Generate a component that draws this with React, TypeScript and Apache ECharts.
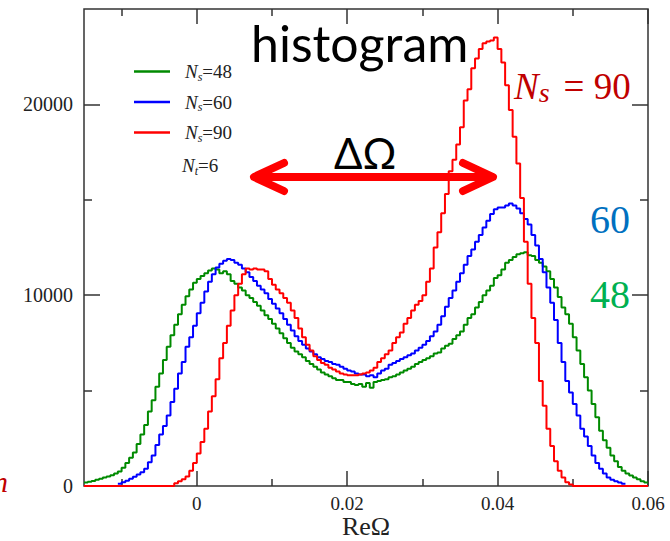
import React, { useEffect, useRef } from "react";
import * as echarts from "echarts";

// Histogram binning of Re(Omega)
const BIN_START = -0.015;
const BIN_WIDTH = 0.0005;
const X_MIN = -0.015;
const X_MAX = 0.06;
const Y_MIN = 0;
const Y_MAX = 25000;

// Tick positions
const X_MAJOR = [0, 0.02, 0.04, 0.06];
const X_MINOR = [-0.01, 0.01, 0.03, 0.05];
const Y_MAJOR = [0, 10000, 20000];
const Y_MINOR = [5000, 15000];

// Series names (legend)
const SERIES_NAMES = ["Ns=48", "Ns=60", "Ns=90"];
const SERIES_COLORS = ["#008a00", "#0000ff", "#ff0000"];

// Counts per bin, Ns = 48 (bins 0..149)
const greenCounts = [
  180, 220, 260, 330, 380, 440, 500, 560, 650, 760,
  950, 1200, 1480, 1750, 2200, 2700, 3200, 3900, 4500, 5200,
  5900, 6600, 7300, 7900, 8450, 9000, 9500, 9950, 10300, 10650,
  10850, 11000, 11150, 11300, 11400, 11350, 11150, 11250, 11100, 10750,
  10600, 10400, 10250, 10000, 9850, 9650, 9450, 9200, 8950, 8750,
  8500, 8250, 8000, 7750, 7500, 7250, 7050, 6900, 6750, 6550,
  6400, 6250, 6100, 5950, 5850, 5750, 5650, 5550, 5550, 5450,
  5450, 5350, 5300, 5350, 5200, 5400, 5150, 5450, 5500, 5550,
  5600, 5700, 5750, 5850, 5950, 6050, 6150, 6250, 6400, 6500,
  6600, 6700, 6800, 6950, 7000, 7200, 7350, 7450, 7700, 7900,
  8100, 8450, 8800, 9000, 9350, 9650, 10000, 10250, 10500, 10900,
  11050, 11350, 11700, 11850, 12000, 12150, 12200, 12250, 12100, 12050,
  11850, 11700, 11500, 11250, 10850, 10400, 9900, 9350, 9000, 8500,
  7800, 7100, 6400, 5700, 5000, 4300, 3600, 2900, 2400, 2000,
  1600, 1300, 1000, 800, 650, 550, 450, 350, 250, 180,
];
const GREEN_FIRST_BIN = 0;

// Counts per bin, Ns = 60 (bins 9..143)
const blueCounts = [
  120, 200, 280, 380, 480, 600, 720, 900, 1250, 1600,
  2150, 2700, 3150, 3700, 4400, 5100, 5900, 6500, 7300, 7800,
  8400, 9050, 9600, 10200, 10700, 11100, 11450, 11650, 11800, 11900,
  11850, 11700, 11600, 11400, 11200, 10950, 10750, 10500, 10300, 10100,
  9800, 9550, 9300, 9050, 8750, 8450, 8150, 7850, 7600, 7400,
  7200, 7050, 6900, 6750, 6650, 6550, 6500, 6400, 6350, 6250,
  6150, 6050, 6000, 5900, 5850, 5850, 5750, 5800, 5700, 5900,
  6050, 6150, 6350, 6450, 6550, 6650, 6750, 6850, 6950, 7100,
  7250, 7400, 7600, 7850, 8100, 8450, 8900, 9400, 9850, 10250,
  10700, 11150, 11600, 12050, 12400, 12800, 13150, 13550, 13900, 14250,
  14500, 14600, 14600, 14700, 14800, 14700, 14550, 14300, 14000, 13700,
  13150, 12600, 11900, 11200, 10400, 9600, 8700, 7500, 6500, 5500,
  4900, 4300, 3700, 3000, 2600, 2100, 1600, 1200, 900, 650,
  450, 330, 250, 180, 120,
];
const BLUE_FIRST_BIN = 9;

// Counts per bin, Ns = 90 (bins 0..149)
const redCounts = [
  0, 0, 0, 0, 0, 0, 0, 0, 0, 0,
  0, 0, 0, 0, 0, 0, 0, 0, 0, 0,
  0, 0, 0, 0, 150, 250, 350, 500, 800, 1200,
  1700, 2300, 3000, 3900, 4700, 5600, 6700, 7500, 8400, 9200,
  10000, 10600, 11100, 11400, 11350, 11400, 11350, 11350, 11250, 10850,
  10550, 10300, 10100, 9850, 9600, 9200, 8800, 8250, 7800, 7400,
  7100, 6800, 6600, 6450, 6350, 6200, 6100, 6000, 5900, 5850,
  5800, 5800, 5800, 5850, 5900, 5950, 6050, 6200, 6500, 6700,
  6900, 7100, 7500, 7800, 8050, 8500, 8800, 9200, 9500, 9700,
  10000, 10700, 11400, 12500, 13300, 14300, 15300, 16500, 17100, 17900,
  18800, 20200, 20800, 21900, 22400, 22900, 23200, 23300, 23350, 23500,
  22900, 22200, 21000, 19700, 18300, 16900, 15100, 12800, 10600, 8800,
  7500, 5500, 4200, 3000, 2100, 1300, 800, 450, 200, 80,
  0, 0, 0, 0, 0, 0, 0, 0, 0, 0,
  0, 0, 0, 0, 0, 0, 0, 0, 0, 0,
];
const RED_FIRST_BIN = 0;

const SERIF = "'Liberation Serif', 'Times New Roman', serif";
const SANS = "Lato, 'Open Sans', sans-serif";

// Turn bin counts into step points at bin edges
function toSteps(counts: number[], firstBin: number): [number, number][] {
  const pts: [number, number][] = counts.map((c, i) => [
    +(BIN_START + (firstBin + i) * BIN_WIDTH).toFixed(6),
    c,
  ]);
  const lastEdge = +(BIN_START + (firstBin + counts.length) * BIN_WIDTH).toFixed(6);
  pts.push([lastEdge, counts[counts.length - 1]]);
  return pts;
}

const AXIS_COLOR = "#333";

function tickAxis(
  kind: "x" | "y",
  position: string,
  values: number[],
  length: number,
  withLabels: boolean
) {
  const base: any = {
    type: "value",
    position,
    min: kind === "x" ? X_MIN : Y_MIN,
    max: kind === "x" ? X_MAX : Y_MAX,
    axisLine: { show: false, onZero: false },
    splitLine: { show: false },
    axisTick: {
      show: true,
      inside: true,
      length,
      customValues: values,
      lineStyle: { color: AXIS_COLOR, width: 1.5 },
    },
    axisLabel: withLabels
      ? {
          show: true,
          customValues: values,
          formatter: (v: number) => String(v),
          fontFamily: SERIF,
          fontSize: kind === "x" ? 19 : 20,
          lineHeight: 16,
          color: "#222",
          margin: kind === "x" ? 9 : 11,
        }
      : { show: false },
  };
  return base;
}

const legendRich = {
  n: { fontFamily: SERIF, fontStyle: "italic", fontSize: 19, lineHeight: 22, color: "#222", padding: [0, 0, 0, 10] },
  s: { fontFamily: SERIF, fontStyle: "italic", fontSize: 12, lineHeight: 8, verticalAlign: "bottom", color: "#222" },
  v: { fontFamily: SERIF, fontSize: 19, lineHeight: 22, color: "#222" },
};

export default function App() {
  const ref = useRef<HTMLDivElement>(null);

  useEffect(() => {
    if (!ref.current) return;
    const chart = echarts.init(ref.current, undefined, { renderer: "svg" });

    const seriesData = [
      toSteps(greenCounts, GREEN_FIRST_BIN),
      toSteps(blueCounts, BLUE_FIRST_BIN),
      toSteps(redCounts, RED_FIRST_BIN),
    ];

    const xMain = tickAxis("x", "bottom", X_MAJOR, 15, true);
    xMain.name = "ReΩ";
    xMain.nameLocation = "middle";
    xMain.nameGap = 29;
    xMain.nameMoveOverlap = false;
    xMain.nameTextStyle = { fontFamily: SERIF, fontSize: 26, lineHeight: 22, color: "#222" };

    chart.setOption({
      animation: false,
      backgroundColor: "#fff",
      grid: {
        left: 84,
        right: 22,
        top: 9,
        bottom: 55,
        show: true,
        borderColor: AXIS_COLOR,
        borderWidth: 1.5,
        backgroundColor: "transparent",
        outerBoundsMode: "none",
      },
      xAxis: [
        xMain,
        tickAxis("x", "bottom", X_MINOR, 7, false),
        tickAxis("x", "top", X_MAJOR, 15, false),
        tickAxis("x", "top", X_MINOR, 7, false),
      ],
      yAxis: [
        tickAxis("y", "left", Y_MAJOR, 16, true),
        tickAxis("y", "left", Y_MINOR, 8, false),
        tickAxis("y", "right", Y_MAJOR, 16, false),
        tickAxis("y", "right", Y_MINOR, 8, false),
      ],
      legend: {
        orient: "vertical",
        left: 129,
        top: 57,
        itemWidth: 36,
        itemHeight: 2.5,
        itemGap: 10,
        icon: "rect",
        selectedMode: false,
        data: SERIES_NAMES,
        formatter: (name: string) => `{n|N}{s|s}{v|=${name.split("=")[1]}}`,
        textStyle: { rich: legendRich },
      },
      series: SERIES_NAMES.map((name, i) => ({
        name,
        type: "line",
        step: "end",
        data: seriesData[i],
        color: SERIES_COLORS[i],
        showSymbol: false,
        clip: false,
        lineStyle: { width: 2, color: SERIES_COLORS[i] },
        xAxisIndex: 0,
        yAxisIndex: 0,
      })),
      graphic: [
        {
          type: "text",
          left: 182,
          top: 156,
          style: {
            text: "{n|N}{s|t}{v|=6}",
            rich: {
              n: { fontFamily: SERIF, fontStyle: "italic", fontSize: 19, lineHeight: 22, fill: "#222" },
              s: { fontFamily: SERIF, fontStyle: "italic", fontSize: 12, lineHeight: 8, verticalAlign: "bottom", fill: "#222" },
              v: { fontFamily: SERIF, fontSize: 19, lineHeight: 22, fill: "#222" },
            },
          },
        },
        {
          type: "text",
          left: 251,
          top: 18,
          style: { text: "histogram", fontFamily: SANS, fontSize: 50, fill: "#000" },
        },
        {
          type: "text",
          left: 334,
          top: 132,
          style: { text: "ΔΩ", fontFamily: SANS, fontSize: 42, fill: "#000" },
        },
        {
          type: "group",
          children: [
            {
              type: "line",
              shape: { x1: 258, y1: 177, x2: 490, y2: 177 },
              style: { stroke: "#ff0000", lineWidth: 8 },
            },
            {
              type: "polyline",
              shape: { points: [[284, 163], [254, 177], [284, 191]] },
              style: { stroke: "#ff0000", lineWidth: 8, lineCap: "round", lineJoin: "round", fill: null },
            },
            {
              type: "polyline",
              shape: { points: [[463, 163], [493, 177], [463, 191]] },
              style: { stroke: "#ff0000", lineWidth: 8, lineCap: "round", lineJoin: "round", fill: null },
            },
          ],
        },
        {
          type: "text",
          left: 514,
          top: 68,
          style: {
            text: "{n|N}{s|s}{v|= 90}",
            rich: {
              n: { fontFamily: SERIF, fontStyle: "italic", fontSize: 37, lineHeight: 40, fill: "#c00000" },
              s: { fontFamily: SERIF, fontStyle: "italic", fontSize: 28, lineHeight: 22, verticalAlign: "bottom", fill: "#c00000", padding: [0, 14, 0, 0] },
              v: { fontFamily: SERIF, fontSize: 37, lineHeight: 40, fill: "#c00000" },
            },
          },
        },
        {
          type: "text",
          left: 590,
          top: 199,
          style: { text: "60", fontFamily: SERIF, fontSize: 40, fill: "#0070c0" },
        },
        {
          type: "text",
          left: 590,
          top: 274,
          style: { text: "48", fontFamily: SERIF, fontSize: 40, fill: "#00b050" },
        },
        {
          type: "text",
          left: -7,
          top: 466,
          style: { text: "n", fontFamily: SERIF, fontStyle: "italic", fontSize: 30, fill: "#c00000" },
        },
      ],
    });

    return () => chart.dispose();
  }, []);

  return (
    <div
      ref={ref}
      style={{ position: "fixed", left: 0, top: 0, width: 670, height: 541, background: "#fff" }}
    />
  );
}
